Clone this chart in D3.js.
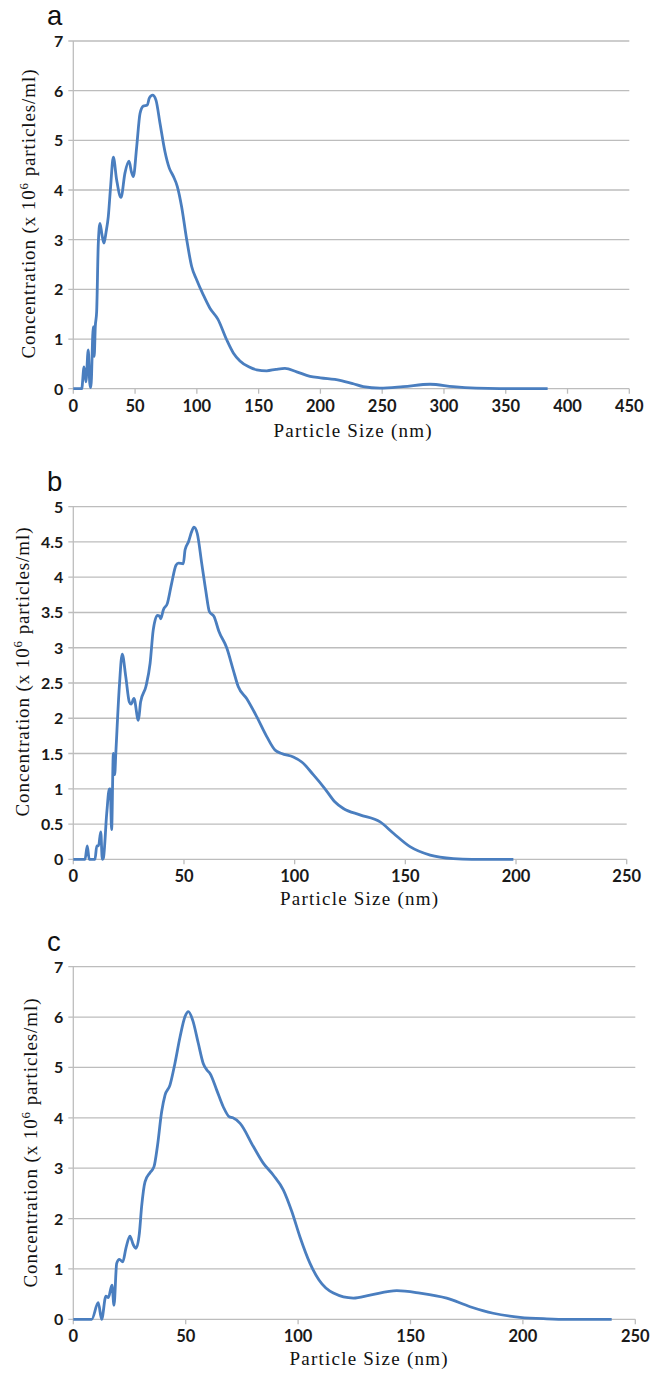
<!DOCTYPE html>
<html>
<head>
<meta charset="utf-8">
<script src="https://cdn.jsdelivr.net/npm/d3@7"></script>
<style>
  html, body { margin: 0; padding: 0; background: #fff; }
  svg { display: block; }
</style>
</head>
<body>
<svg id="chart" width="654" height="1373"></svg>
<script>
// ---- Panel a: particle size distribution ----
const sizeA = [0, 6.8, 8.7, 10.2, 12.1, 13.3, 14.2, 16.2, 16.9, 17.8, 18.9, 20.2, 21.6, 23.2, 24.8, 26.5, 28.3, 30.2, 32.4, 35.1, 38.6, 41.8, 45.1, 47, 48.6, 51.3, 54, 56.7, 59.9, 61.5, 64.2, 66.9, 70.2, 74.2, 77.7, 80.9, 84.2, 87.7, 91.8, 95.8, 99.9, 105.2, 110.6, 117, 124.2, 129.5, 134.9, 142, 148.4, 156.5, 164, 171.3, 180.8, 191.6, 200, 215.8, 226.6, 234.7, 248.2, 267, 288.7, 307.5, 326, 345, 383.9];
const concA = [0, 0, 0.44, 0.14, 0.78, 0.12, 0.02, 1.25, 0.65, 1.25, 1.55, 2.9, 3.33, 3.1, 2.93, 3.15, 3.46, 4.07, 4.66, 4.2, 3.85, 4.34, 4.58, 4.37, 4.27, 4.87, 5.54, 5.69, 5.71, 5.85, 5.91, 5.81, 5.34, 4.77, 4.44, 4.28, 4.07, 3.66, 3.0, 2.46, 2.19, 1.89, 1.62, 1.4, 0.98, 0.72, 0.56, 0.44, 0.38, 0.36, 0.39, 0.41, 0.34, 0.25, 0.22, 0.17, 0.1, 0.04, 0.01, 0.04, 0.09, 0.04, 0.01, 0, 0];
const xTicksA = [0, 50, 100, 150, 200, 250, 300, 350, 400, 450];
const yTicksA = [0, 1, 2, 3, 4, 5, 6, 7];

// ---- Panel b ----
const sizeB = [0, 5.3, 6.3, 7.2, 9.8, 10.6, 11.4, 12.4, 13.1, 13.6, 15.1, 16.3, 16.7, 17.3, 18.1, 18.7, 19.2, 20.8, 22.1, 23.7, 25.3, 26.1, 27.4, 29.4, 30.4, 32.8, 34.7, 36.1, 38, 38.9, 39.5, 40.7, 42.5, 44.4, 46.4, 47.5, 49.7, 50.5, 52, 53.5, 54.5, 56, 58, 59.8, 61.5, 63.6, 65.8, 69.3, 72.3, 74.5, 78.3, 82.9, 87.4, 91.1, 94.1, 99.4, 103.2, 108.4, 113.7, 118, 122, 129.5, 138.6, 144.6, 152.1, 161.2, 171.7, 180, 198.8];
const concB = [0, 0, 0.19, 0, 0, 0.19, 0.19, 0.39, 0, 0.02, 0.65, 1.0, 1.0, 0.42, 1.5, 1.2, 1.5, 2.45, 2.91, 2.59, 2.23, 2.2, 2.28, 1.97, 2.23, 2.45, 2.78, 3.25, 3.46, 3.45, 3.41, 3.54, 3.63, 3.91, 4.17, 4.2, 4.19, 4.39, 4.5, 4.65, 4.71, 4.62, 4.2, 3.82, 3.51, 3.44, 3.23, 3.0, 2.68, 2.45, 2.28, 2.02, 1.74, 1.55, 1.5, 1.45, 1.38, 1.2, 1.0, 0.82, 0.72, 0.63, 0.53, 0.37, 0.18, 0.06, 0.01, 0, 0];
const xTicksB = [0, 50, 100, 150, 200, 250];
const yTicksB = [0, 0.5, 1, 1.5, 2, 2.5, 3, 3.5, 4, 4.5, 5];

// ---- Panel c ----
const sizeC = [0, 8.2, 11.1, 12.6, 14.5, 15.6, 17.2, 18.1, 19.3, 20.5, 22, 23.4, 25.2, 26.7, 27.9, 29.4, 30.4, 31.9, 34.1, 35.9, 37.4, 39.3, 40.8, 43, 45.2, 47.5, 49.7, 51.2, 53.1, 55.6, 57.8, 59.6, 60.8, 63.8, 66.7, 69.4, 71, 74.2, 80.1, 84.5, 89, 93.4, 97.2, 100.8, 105.3, 109.3, 115.7, 124.6, 132, 143.9, 154.2, 166.1, 176.5, 186.8, 198.7, 210.6, 220, 239.5];
const concC = [0, 0, 0.33, 0, 0.46, 0.43, 0.68, 0.28, 1.11, 1.19, 1.14, 1.41, 1.65, 1.48, 1.41, 1.71, 2.24, 2.73, 2.91, 3.03, 3.43, 4.12, 4.45, 4.65, 5.08, 5.61, 6.01, 6.11, 5.94, 5.48, 5.08, 4.94, 4.88, 4.55, 4.22, 4.02, 4.0, 3.89, 3.43, 3.1, 2.86, 2.57, 2.14, 1.64, 1.11, 0.78, 0.52, 0.42, 0.48, 0.57, 0.52, 0.42, 0.25, 0.12, 0.04, 0.01, 0, 0];
const xTicksC = [0, 50, 100, 150, 200, 250];
const yTicksC = [0, 1, 2, 3, 4, 5, 6, 7];

const xTitle = "Particle Size (nm)";
const panelLetters = ["a", "b", "c"];

const svg = d3.select("#chart");
const gridColor = "#bdbdbd";
const lineColor = "#4a7ebf";
const tickFont = "Lato, 'Open Sans', sans-serif";
const serifFont = "'Liberation Serif', 'Times New Roman', serif";

function drawPanel(p) {
  const x = d3.scaleLinear().domain([0, d3.max(p.xTicks)]).range([p.left, p.right]);
  const y = d3.scaleLinear().domain([0, d3.max(p.yTicks)]).range([p.bottom, p.top]);
  const g = svg.append("g");

  // horizontal gridlines with short outward ticks
  g.append("g").selectAll("line").data(p.yTicks).join("line")
    .attr("x1", p.left - 5).attr("x2", p.right)
    .attr("y1", d => y(d)).attr("y2", d => y(d))
    .attr("stroke", gridColor).attr("stroke-width", 1.3);

  // vertical axis line
  g.append("line")
    .attr("x1", p.left).attr("x2", p.left)
    .attr("y1", p.top).attr("y2", p.bottom)
    .attr("stroke", gridColor).attr("stroke-width", 1.3);

  // x tick marks
  g.append("g").selectAll("line").data(p.xTicks).join("line")
    .attr("x1", d => x(d)).attr("x2", d => x(d))
    .attr("y1", p.bottom).attr("y2", p.bottom + 5)
    .attr("stroke", gridColor).attr("stroke-width", 1.3);

  // y tick labels
  g.append("g").selectAll("text").data(p.yTicks).join("text")
    .attr("x", p.left - 10).attr("y", d => y(d) + 6)
    .attr("text-anchor", "end")
    .attr("font-family", tickFont).attr("font-weight", 700).attr("font-size", 16)
    .attr("fill", "#1a1a1a")
    .text(d => String(d));

  // x tick labels
  g.append("g").selectAll("text").data(p.xTicks).join("text")
    .attr("x", d => x(d)).attr("y", p.bottom + 23)
    .attr("text-anchor", "middle")
    .attr("font-family", tickFont).attr("font-weight", 700).attr("font-size", 16.5)
    .attr("fill", "#1a1a1a")
    .text(d => String(d));

  // distribution curve
  const pts = p.sizes.map((s, i) => [s, p.conc[i]]);
  g.append("path").datum(pts)
    .attr("d", d3.line().x(d => x(d[0])).y(d => y(d[1])).curve(d3.curveMonotoneX))
    .attr("fill", "none").attr("stroke", lineColor)
    .attr("stroke-width", 2.8).attr("stroke-linejoin", "round");

  // x-axis title
  g.append("text")
    .attr("x", p.xTitleX).attr("y", p.xTitleY)
    .attr("text-anchor", "middle")
    .attr("font-family", serifFont).attr("font-size", 19).attr("fill", "#111")
    .attr("textLength", 158).attr("lengthAdjust", "spacing")
    .text(xTitle);

  // y-axis title with superscript
  const yt = g.append("text")
    .attr("transform", `translate(${p.yTitleX},${p.yTitleY}) rotate(-90)`)
    .attr("text-anchor", "middle")
    .attr("font-family", serifFont).attr("font-size", 19).attr("fill", "#111")
    .attr("textLength", 289).attr("lengthAdjust", "spacing");
  yt.append("tspan").text("Concentration (x 10");
  yt.append("tspan").attr("font-size", 13).attr("dy", -7).text("6");
  yt.append("tspan").attr("dy", 7).text(" particles/ml)");

  // panel letter
  g.append("text")
    .attr("x", 47).attr("y", p.letterY)
    .attr("font-family", "'Liberation Sans', Arial, sans-serif")
    .attr("font-size", 27.5).attr("fill", "#111")
    .text(p.letter);
}

drawPanel({
  letter: panelLetters[0], sizes: sizeA, conc: concA, xTicks: xTicksA, yTicks: yTicksA,
  left: 73.3, right: 629.3, top: 41, bottom: 388.7,
  xTitleX: 352.5, xTitleY: 437, yTitleX: 35, yTitleY: 214, letterY: 25
});
drawPanel({
  letter: panelLetters[1], sizes: sizeB, conc: concB, xTicks: xTicksB, yTicks: yTicksB,
  left: 73.3, right: 626.7, top: 506.7, bottom: 859.3,
  xTitleX: 359, xTitleY: 905, yTitleX: 28.5, yTitleY: 672, letterY: 491
});
drawPanel({
  letter: panelLetters[2], sizes: sizeC, conc: concC, xTicks: xTicksC, yTicks: yTicksC,
  left: 73.3, right: 635.3, top: 966.7, bottom: 1319.3,
  xTitleX: 368.5, xTitleY: 1365, yTitleX: 36.5, yTitleY: 1143, letterY: 951
});
</script>
</body>
</html>
